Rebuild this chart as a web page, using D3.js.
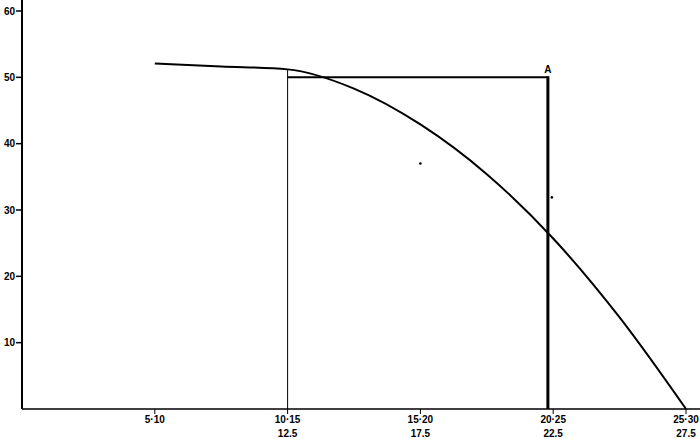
<!DOCTYPE html>
<html>
<head>
<meta charset="utf-8">
<script src="https://cdn.jsdelivr.net/npm/d3@7"></script>
<style>
  body { margin: 0; background: #fff; }
  text { font-family: "Liberation Sans", Arial, sans-serif; font-weight: bold; font-size: 10px; }
</style>
</head>
<body>
<div id="chart"></div>
<script>
// curve
const curveX = [7.5, 10, 12.5, 15, 17.5, 20, 22.5, 25, 27.5];
const curveY = [52.1, 51.65, 51.2, 48.3, 42.9, 35.4, 25.7, 13.8, 0];

// class intervals on the x axis
const classLabels = ["5·10", "10·15", "15·20", "20·25", "25·30"];
const classMids = [7.5, 12.5, 17.5, 22.5, 27.5];
const midLabels = ["", "12.5", "17.5", "22.5", "27.5"];

const yTicks = [10, 20, 30, 40, 50, 60];

// construction lines
const leftX = 12.5, leftTop = 51.2;
const pointA = { x: 22.3, y: 50 };

// stray dots
const dotX = [17.5, 22.45];
const dotY = [37.0, 31.9];

const width = 700, height = 439;

const x = d3.scaleLinear().domain([2.5, 27.5]).range([22, 686]);
const y = d3.scaleLinear().domain([0, 60]).range([409, 11]);

const svg = d3.select("#chart").append("svg")
    .attr("width", width)
    .attr("height", height);

// y axis
svg.append("line")
    .attr("x1", x(2.5)).attr("x2", x(2.5))
    .attr("y1", 0).attr("y2", y(0))
    .attr("stroke", "#000").attr("stroke-width", 2);

const yt = svg.append("g").selectAll("g")
    .data(yTicks)
    .join("g");
yt.append("line")
    .attr("x1", x(2.5) - 6).attr("x2", x(2.5))
    .attr("y1", d => y(d)).attr("y2", d => y(d))
    .attr("stroke", "#000").attr("stroke-width", 1.5);
yt.append("text")
    .attr("x", x(2.5) - 7)
    .attr("y", d => y(d))
    .attr("dy", "0.35em")
    .attr("text-anchor", "end")
    .text(d => d);

// x axis
svg.append("line")
    .attr("x1", x(2.5)).attr("x2", width)
    .attr("y1", y(0)).attr("y2", y(0))
    .attr("stroke", "#000").attr("stroke-width", 1.5);

const xt = svg.append("g").selectAll("g")
    .data(classMids)
    .join("g");
xt.append("line")
    .attr("x1", d => x(d)).attr("x2", d => x(d))
    .attr("y1", y(0)).attr("y2", y(0) + 5)
    .attr("stroke", "#000").attr("stroke-width", 1);
xt.append("text")
    .attr("x", d => x(d))
    .attr("y", y(0) + 14)
    .attr("text-anchor", "middle")
    .text((d, i) => classLabels[i]);
xt.append("text")
    .attr("x", d => x(d))
    .attr("y", y(0) + 28)
    .attr("text-anchor", "middle")
    .text((d, i) => midLabels[i]);

// thin vertical at 12.5
svg.append("line")
    .attr("x1", x(leftX)).attr("x2", x(leftX))
    .attr("y1", y(0)).attr("y2", y(leftTop))
    .attr("stroke", "#000").attr("stroke-width", 1);

// horizontal at 50
svg.append("line")
    .attr("x1", x(leftX)).attr("x2", x(pointA.x))
    .attr("y1", y(pointA.y)).attr("y2", y(pointA.y))
    .attr("stroke", "#000").attr("stroke-width", 2);

// thick vertical through A
svg.append("line")
    .attr("x1", x(pointA.x)).attr("x2", x(pointA.x))
    .attr("y1", y(0)).attr("y2", y(pointA.y) - 1)
    .attr("stroke", "#000").attr("stroke-width", 3);

svg.append("text")
    .attr("x", x(pointA.x))
    .attr("y", y(pointA.y) - 4)
    .attr("text-anchor", "middle")
    .text("A");

// curve
const line = d3.line()
    .x(d => x(d[0]))
    .y(d => y(d[1]))
    .curve(d3.curveMonotoneX);

svg.append("path")
    .datum(d3.zip(curveX, curveY))
    .attr("d", line)
    .attr("fill", "none")
    .attr("stroke", "#000")
    .attr("stroke-width", 2);

// dots
svg.append("g").selectAll("circle")
    .data(d3.zip(dotX, dotY))
    .join("circle")
    .attr("cx", d => x(d[0]))
    .attr("cy", d => y(d[1]))
    .attr("r", 1.3)
    .attr("fill", "#000");
</script>
</body>
</html>
